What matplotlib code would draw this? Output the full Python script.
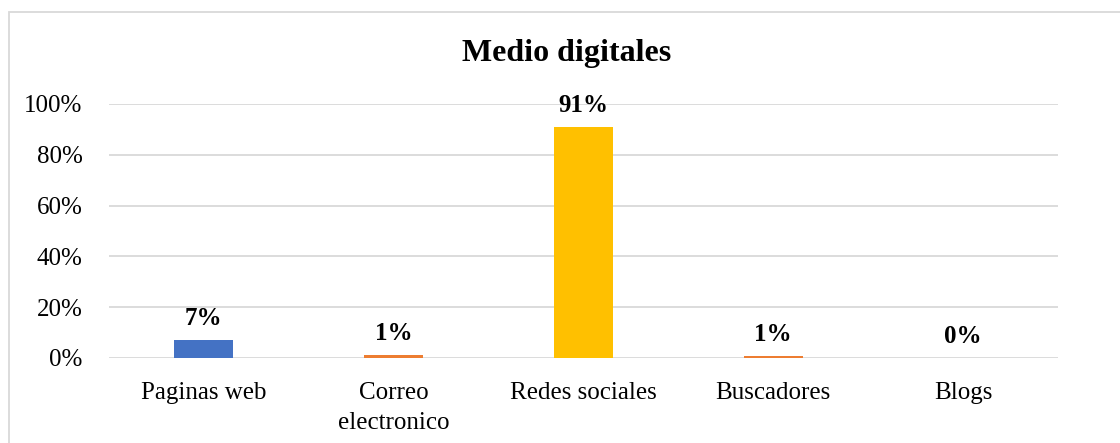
import matplotlib.pyplot as plt
from matplotlib.patches import Rectangle
from matplotlib.ticker import PercentFormatter

# data
categories = ['Paginas web', 'Correo\nelectronico', 'Redes sociales', 'Buscadores', 'Blogs']
values = [0.07, 0.012, 0.91, 0.009, 0.0]
labels = ['7%', '1%', '91%', '1%', '0%']
colors = ['#4472C4', '#ED7D31', '#FFC000', '#ED7D31', '#A5A5A5']

plt.rcParams['font.family'] = ['Liberation Serif', 'DejaVu Serif']

W, H = 1120, 443
fig = plt.figure(figsize=(W / 100, H / 100), dpi=100)
ax = fig.add_axes([109 / W, 1 - 358 / H, (1058 - 109) / W, (358 - 104) / H])

x = range(len(categories))
ax.bar(x, values, width=0.31, color=colors, zorder=2)

for xi, v, lab in zip(x, values, labels):
    ax.text(xi, v + 0.04, lab, ha='center', va='bottom', fontsize=18,
            fontweight='bold', zorder=3)

ax.set_xlim(-0.5, len(categories) - 0.5)
ax.set_ylim(0, 1)
ax.set_yticks([0, 0.2, 0.4, 0.6, 0.8, 1.0])
ax.yaxis.set_major_formatter(PercentFormatter(1.0, decimals=0))
ax.set_xticks(list(x))
ax.set_xticklabels(categories, fontsize=18, linespacing=1.5)
ax.tick_params(axis='y', labelsize=18, length=0, pad=19)
ax.tick_params(axis='x', length=0, pad=17)
ax.grid(axis='y', color='#D9D9D9', linewidth=1.3, zorder=0)
for s in ax.spines.values():
    s.set_visible(False)

fig.text(567 / W, 1 - 54 / H, 'Medio digitales', ha='center', va='center',
         fontsize=23, fontweight='bold')

# outer chart border
fig.patches.append(Rectangle((9 / W, -0.1), 1.2, 1 - 12 / H + 0.1,
                             transform=fig.transFigure, fill=False,
                             edgecolor='#D9D9D9', linewidth=1.3))

plt.savefig('out.png', dpi=100)
plt.close()
